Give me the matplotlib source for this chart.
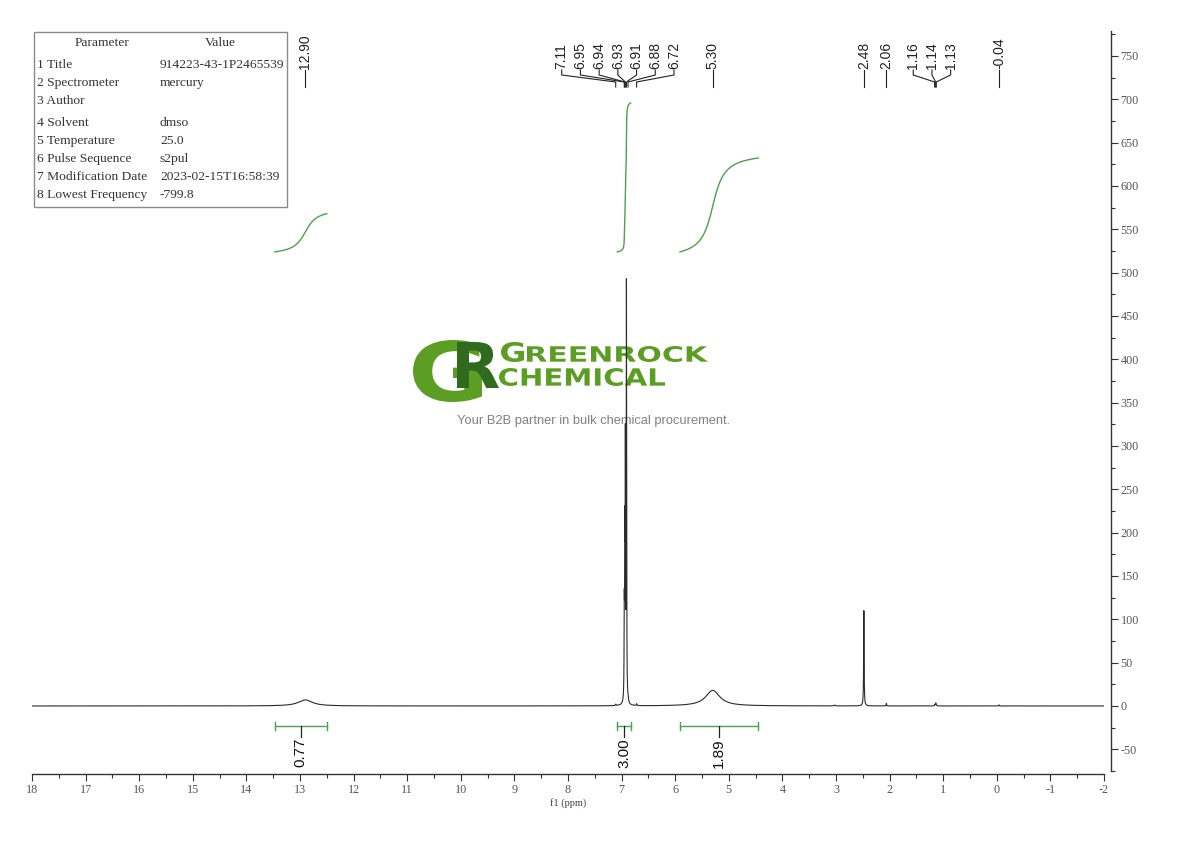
import numpy as np
import matplotlib
matplotlib.use('Agg')
import matplotlib.pyplot as plt
from matplotlib.ticker import MultipleLocator
from matplotlib.textpath import TextPath
from matplotlib.font_manager import FontProperties
from matplotlib.patches import PathPatch, Rectangle
from matplotlib.transforms import Affine2D

plt.rcParams['axes.unicode_minus'] = False

# peaks (ppm, height, half width)
peak_ppm = [12.90, 7.11, 6.95, 6.94, 6.93, 6.91, 6.88, 6.72, 5.30, 3.03, 2.48, 2.06, 1.16, 1.14, 1.13, -0.04]
peak_height = [7, 1.5, 95, 170, 280, 478, 3, 2, 18, 1, 110, 3, 1.5, 3, 1.5, 1.2]
peak_hwhm = [0.16, 0.006, 0.004, 0.004, 0.004, 0.004, 0.006, 0.006, 0.16, 0.012,
             0.005, 0.005, 0.006, 0.006, 0.006, 0.005]

# peak picking labels, grouped as on the plot
label_groups = [["12.90"], ["7.11", "6.95", "6.94", "6.93", "6.91", "6.88", "6.72"], ["5.30"],
                ["2.48"], ["2.06"], ["1.16", "1.14", "1.13"], ["-0.04"]]
label_centers = [12.90, 7.07, 5.30, 2.48, 2.06, 1.21, -0.04]

# integrations
integ_from = [13.47, 7.08, 5.91]
integ_to = [12.50, 6.83, 4.45]
integ_value = [0.77, 3.00, 1.89]

# acquisition parameters
param_names = ["1 Title", "2 Spectrometer", "3 Author", "4 Solvent", "5 Temperature",
               "6 Pulse Sequence", "7 Modification Date", "8 Lowest Frequency"]
param_values = ["914223-43-1P2465539", "mercury", "", "dmso", "25.0", "s2pul",
                "2023-02-15T16:58:39", "-799.8"]

x = np.linspace(18, -2, 80001)
spec = np.zeros_like(x)
for p, h, w in zip(peak_ppm, peak_height, peak_hwhm):
    spec += h / (1 + ((x - p) / w) ** 2)

fig = plt.figure(figsize=(11.9, 8.41), dpi=100)

# background layer in pixel coords (table + watermark)
deco = fig.add_axes([0, 0, 1, 1], zorder=0)
deco.set_xlim(0, 1190)
deco.set_ylim(841, 0)
deco.axis('off')

deco.add_patch(Rectangle((34, 32), 253, 175, fc='none', ec='#8a8a8a', lw=1))
tfont = dict(family='Liberation Serif', fontsize=9.7, color='#333333', va='center')
deco.text(102, 43, "Parameter", ha='center', **tfont)
deco.text(220, 43, "Value", ha='center', **tfont)
row_y = [65, 83, 101, 123, 141, 159, 177, 195]
for yy, n, v in zip(row_y, param_names, param_values):
    deco.text(37, yy, n, ha='left', **tfont)
    deco.text(160, yy, v, ha='left', **tfont)


def box_text(s, x0, y0, x1, y1, color, weight='bold'):
    tp = TextPath((0, 0), s, size=100, prop=FontProperties(family='DejaVu Sans', weight=weight))
    bb = tp.get_extents()
    tr = Affine2D().translate(-bb.x0, -bb.y0).scale((x1 - x0) / bb.width, -(y1 - y0) / bb.height).translate(x0, y1)
    deco.add_patch(PathPatch(tr.transform_path(tp), fc=color, ec='none'))


box_text("G", 413, 340, 482, 402, '#5c9e24')
box_text("R", 457, 342, 499, 388, '#2f6a1f')
box_text("G", 501, 342, 524, 362, '#5c9e24')
box_text("REENROCK", 527, 346, 708, 362, '#5c9e24')
box_text("CHEMICAL", 499, 368, 665, 386, '#5c9e24')
deco.text(594, 421, "Your B2B partner in bulk chemical procurement.", ha='center', va='center',
          family='Liberation Sans', fontsize=9.3, color='#808080')

# spectrum axes
ax = fig.add_axes([32 / 1190, 1 - 774 / 841, 1072 / 1190, 744 / 841], zorder=1)
ax.patch.set_alpha(0)
ax.plot(x, spec, color='#2b2b2b', lw=0.8)
ax.set_xlim(18, -2)
ax.set_ylim(-78.5, 780)

for s in ['left', 'top']:
    ax.spines[s].set_visible(False)
ax.spines['right'].set_position(('outward', 5))
ax.spines['right'].set_bounds(-75, 779)
for s in ['right', 'bottom']:
    ax.spines[s].set_color('#333333')
    ax.spines[s].set_linewidth(1)
ax.yaxis.tick_right()
ax.xaxis.set_major_locator(MultipleLocator(1))
ax.xaxis.set_minor_locator(MultipleLocator(0.5))
ax.yaxis.set_major_locator(MultipleLocator(50))
ax.yaxis.set_minor_locator(MultipleLocator(25))
ax.tick_params(which='major', length=5, width=0.8, color='#333333', labelsize=8.7,
               labelcolor='#555555', pad=2)
ax.tick_params(which='minor', length=3, width=0.8, color='#333333')
for lab in ax.get_xticklabels() + ax.get_yticklabels():
    lab.set_family('Liberation Serif')
ax.set_xlabel('f1 (ppm)', family='Liberation Serif', fontsize=7.5, color='#444444', labelpad=2)

# integral curves and bars
green = '#4f9f4f'
scale = 57.3
base = 524
for a, b, v in zip(integ_from, integ_to, integ_value):
    m = (x <= a) & (x >= b)
    cs = np.cumsum(spec[m])
    cs = (cs - cs[0]) / (cs[-1] - cs[0])
    ax.plot(x[m], base + cs * v * scale, color=green, lw=1)
    ax.plot([a, b], [-23, -23], color=green, lw=1)
    ax.plot([a, a], [-27.6, -18.4], color=green, lw=1)
    ax.plot([b, b], [-27.6, -18.4], color=green, lw=1)
    mid = (a + b) / 2
    ax.plot([mid, mid], [-23, -36], color='#222222', lw=0.9)
    ax.text(mid, -37, f"{v:.2f}", rotation=90, ha='center', va='top', family='Liberation Sans',
            fontsize=11, color='#111111')

# peak labels
xt = ax.get_xaxis_transform()
yA, yB, yC, yD = (774 - 70) / 744, (774 - 75) / 744, (774 - 82) / 744, (774 - 87) / 744
sp = 0.349
for labs, c in zip(label_groups, label_centers):
    n = len(labs)
    for i, lab in enumerate(labs):
        px = float(lab)
        lx = c + ((n - 1) / 2 - i) * sp if n > 1 else px
        if n > 1:
            ax.plot([lx, lx, px, px], [yA, yB, yC, yD], transform=xt, color='#222222', lw=0.8, clip_on=False)
        else:
            ax.plot([px, px], [yA, yD], transform=xt, color='#222222', lw=0.8, clip_on=False)
        ax.text(lx, yA + 0.002, lab, rotation=90, ha='center', va='bottom', transform=xt,
                family='Liberation Sans', fontsize=10, color='#222222', clip_on=False)

fig.savefig('out.png', dpi=100)
